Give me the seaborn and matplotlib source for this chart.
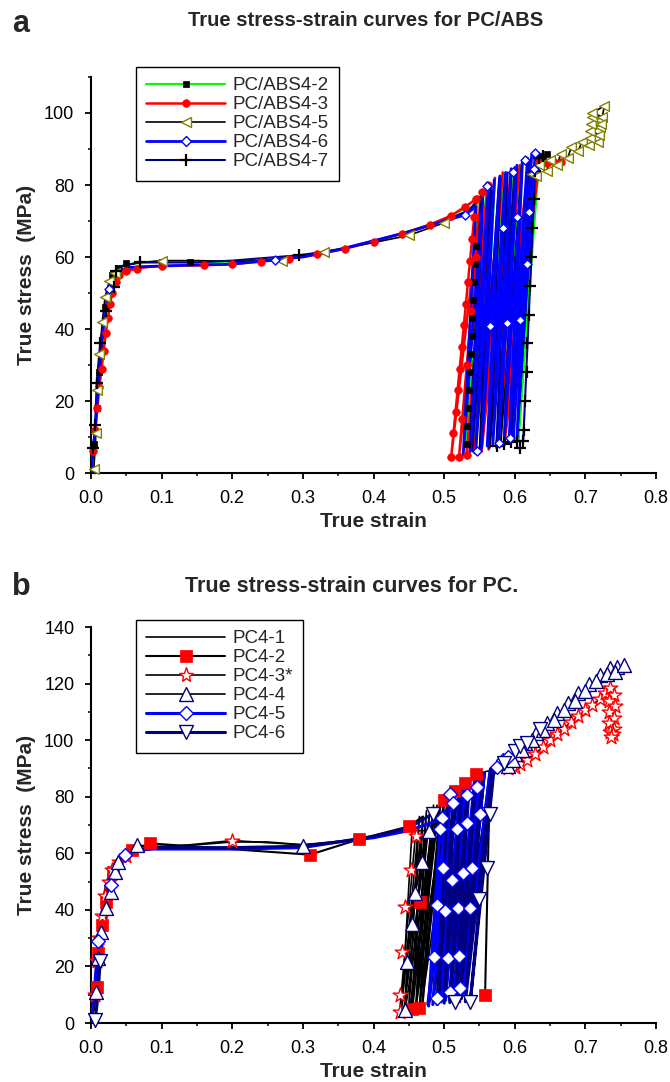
import matplotlib
matplotlib.use("Agg")
import matplotlib.pyplot as plt
from matplotlib.lines import Line2D
from matplotlib.ticker import MultipleLocator, FormatStrFormatter
import pandas as pd
import seaborn as sns

sns.set_theme(style="ticks")
plt.rcParams["font.family"] = ["Liberation Sans", "DejaVu Sans"]

# ======================= Panel a : PC/ABS =======================
a_labels = ["PC/ABS4-2", "PC/ABS4-3", "PC/ABS4-5", "PC/ABS4-6", "PC/ABS4-7"]

# PC/ABS4-2
a2_mono_x = [0, 0.004, 0.008, 0.012, 0.016, 0.02, 0.025, 0.03, 0.035, 0.04, 0.05, 0.07, 0.1, 0.14, 0.2, 0.25, 0.3, 0.35, 0.4, 0.45, 0.5, 0.53]
a2_mono_y = [0, 8, 18, 28, 38, 46, 52, 55, 56.5, 57.3, 58, 58.3, 58.5, 58.5, 58.7, 59.2, 60.3, 62, 64.3, 67, 70.5, 73.5]
a2_top_x = [0.548, 0.56, 0.572, 0.585, 0.598, 0.61, 0.622, 0.635]
a2_top_y = [77, 79.5, 81, 83, 84.5, 86, 87, 88]
a2_bot_x = [0.531, 0.541, 0.552, 0.563, 0.574, 0.585, 0.595, 0.605]
a2_bot_y = [5, 6, 6.5, 7, 7.5, 8, 8.5, 9]
a2_tail_x = [0.632, 0.645]
a2_tail_y = [86.5, 88.5]
a2_mk_x = [0.004, 0.008, 0.012, 0.02, 0.03, 0.038, 0.05, 0.1, 0.14, 0.5317, 0.5329, 0.5341, 0.5352, 0.5364, 0.5376, 0.5388, 0.540, 0.5412, 0.5423, 0.5435, 0.5447, 0.635, 0.64, 0.645]
a2_mk_y = [8, 18, 28, 46, 55, 57, 58.3, 58.7, 58.5, 8, 13, 18, 23, 28, 33, 38, 43, 48, 53, 58, 63, 88, 87.5, 88.5]

# PC/ABS4-3
a3_mono_x = [0, 0.003, 0.006, 0.009, 0.012, 0.015, 0.018, 0.021, 0.024, 0.027, 0.03, 0.035, 0.04, 0.05, 0.065, 0.08, 0.1, 0.13, 0.16, 0.2, 0.24, 0.28, 0.32, 0.36, 0.4, 0.44, 0.48, 0.51, 0.53]
a3_mono_y = [0, 6, 12, 18, 24, 29, 34, 39, 43, 47, 50, 53, 55, 56, 56.8, 57.2, 57.5, 57.6, 57.7, 58, 58.7, 59.5, 60.7, 62.3, 64.3, 66.5, 69, 71.5, 74]
a3_top_x = [0.545, 0.553, 0.562, 0.572, 0.583, 0.595, 0.607, 0.62]
a3_top_y = [76, 78, 80, 82, 83.5, 84.5, 85.5, 86.5]
a3_bot_x = [0.51, 0.521, 0.532, 0.543, 0.553, 0.563, 0.574, 0.585]
a3_bot_y = [4.4, 4.4, 5, 5.5, 6, 6.5, 7, 7.5]
a3_tail_x = [0.635, 0.645, 0.655, 0.665]
a3_tail_y = [86.5, 86, 86.5, 86.5]
a3_mk_x = [0.003, 0.006, 0.009, 0.012, 0.015, 0.018, 0.021, 0.024, 0.027, 0.03, 0.035, 0.04, 0.05, 0.065, 0.1, 0.16, 0.2, 0.24, 0.28, 0.32, 0.36, 0.4, 0.44, 0.48, 0.51, 0.53,
           0.51, 0.5132, 0.5162, 0.5191, 0.522, 0.525, 0.5279, 0.5308, 0.5338, 0.5367, 0.5396, 0.5425, 0.545,
           0.521, 0.5256, 0.5321, 0.5387, 0.5452, 0.553, 0.532, 0.562, 0.635, 0.645, 0.655, 0.665]
a3_mk_y = [6, 12, 18, 24, 29, 34, 39, 43, 47, 50, 53, 55, 56, 56.8, 57.5, 57.7, 58, 58.7, 59.5, 60.7, 62.3, 64.3, 66.5, 69, 71.5, 74,
           4.4, 11, 17, 23, 29, 35, 41, 47, 53, 59, 65, 71, 76,
           4.4, 15, 30, 45, 60, 78, 5, 80, 86.5, 86, 86.5, 86.5]

# PC/ABS4-5
a5_mono_x = [0, 0.004, 0.007, 0.009, 0.012, 0.016, 0.02, 0.026, 0.034, 0.045, 0.07, 0.1, 0.15, 0.2, 0.27, 0.33, 0.4, 0.45, 0.5, 0.535]
a5_mono_y = [0, 1, 11, 23, 33, 42, 49, 53.3, 55.5, 57.5, 58.5, 59, 59, 58.8, 59, 61.5, 64, 66, 69.5, 73]
a5_top_x = [0.552, 0.566, 0.58, 0.595, 0.61]
a5_top_y = [77, 80, 82, 83.5, 84.5]
a5_bot_x = [0.536, 0.55, 0.565, 0.58, 0.592]
a5_bot_y = [5.5, 6.5, 7, 7.5, 8]
a5_tail_x = [0.625, 0.63, 0.635, 0.645, 0.65, 0.66, 0.665, 0.675, 0.68, 0.69, 0.695, 0.705, 0.718, 0.706, 0.719, 0.707, 0.72, 0.708, 0.721, 0.709, 0.723, 0.71, 0.727, 0.722]
a5_tail_y = [83, 82.5, 85.5, 83.8, 87, 85.5, 88.5, 87.5, 90.5, 89.5, 92, 91, 92, 93, 94, 95, 96, 97, 98, 99, 99, 100, 102, 97]
a5_mk_x = [0.004, 0.007, 0.009, 0.012, 0.016, 0.02, 0.026, 0.034, 0.1, 0.27, 0.33, 0.45, 0.5] + a5_tail_x
a5_mk_y = [1, 11, 23, 33, 42, 49, 53.3, 55.5, 59, 59, 61.5, 66, 69.5] + a5_tail_y

# PC/ABS4-6
a6_mono_x = [0, 0.004, 0.008, 0.012, 0.016, 0.02, 0.026, 0.032, 0.04, 0.05, 0.07, 0.1, 0.15, 0.2, 0.26, 0.3, 0.35, 0.4, 0.45, 0.5, 0.53]
a6_mono_y = [0, 8, 18, 28, 37, 45, 51, 54.5, 56, 57, 57.3, 57.5, 57.8, 58, 59.3, 60, 62, 64.5, 67, 70, 71.7]
a6_top_x = [0.545, 0.555, 0.563, 0.571, 0.579, 0.587, 0.595, 0.603, 0.611, 0.618, 0.624, 0.629]
a6_top_y = [74, 78, 80, 81.5, 82.5, 83.5, 84.5, 85.5, 86.5, 87.5, 88.5, 89]
a6_bot_x = [0.527, 0.537, 0.545, 0.553, 0.561, 0.569, 0.577, 0.585, 0.592, 0.598, 0.603]
a6_bot_y = [5, 6, 6.5, 7, 7.5, 8, 8.5, 9, 9, 9.5, 9.5]
a6_mk_x = [0.026, 0.26, 0.53, 0.56, 0.597, 0.614, 0.628, 0.627, 0.546, 0.577, 0.593, 0.565, 0.589, 0.607, 0.584, 0.603, 0.62, 0.618]
a6_mk_y = [51, 59.3, 71.7, 79.7, 83.6, 87, 89, 84.4, 6.1, 8.3, 9.7, 40.8, 41.6, 42.5, 68, 71, 72.5, 58]

# PC/ABS4-7
a7_mono_x = [0, 0.003, 0.006, 0.008, 0.013, 0.021, 0.032, 0.036, 0.045, 0.07, 0.1, 0.15, 0.2, 0.295, 0.35, 0.4, 0.45, 0.5, 0.535]
a7_mono_y = [0, 7, 13.3, 25, 36, 45, 51.7, 56, 57.5, 58.6, 58.5, 58.5, 59, 60.5, 62, 64.5, 67, 70, 73]
a7_top_x = [0.555, 0.567, 0.578, 0.59, 0.6, 0.61, 0.62, 0.63]
a7_top_y = [77, 80, 82, 83.5, 85, 86, 87, 88.5]
a7_bot_x = [0.54, 0.552, 0.563, 0.574, 0.585, 0.595, 0.603, 0.612]
a7_bot_y = [6, 6.5, 7, 7.5, 8, 8.5, 9, 9]
a7_mk_x = [0.003, 0.006, 0.008, 0.013, 0.021, 0.032, 0.036, 0.07, 0.295, 0.613, 0.615, 0.617, 0.618, 0.62, 0.622, 0.623, 0.625, 0.627, 0.628,
           0.575, 0.585, 0.595, 0.603, 0.608, 0.612, 0.635, 0.64]
a7_mk_y = [7, 13.3, 25, 36, 45, 51.7, 56, 58.6, 60.5, 12, 20, 28, 36, 44, 52, 60, 68, 76, 84,
           7.5, 8, 8.5, 9, 7, 9, 87.5, 88]

# ======================= Panel b : PC =======================
b_labels = ["PC4-1", "PC4-2", "PC4-3*", "PC4-4", "PC4-5", "PC4-6"]

# PC4-1
b1_mono_x = [0, 0.004, 0.008, 0.012, 0.016, 0.02, 0.025, 0.03, 0.04, 0.05, 0.07, 0.1, 0.15, 0.2, 0.25, 0.3, 0.35, 0.4, 0.44]
b1_mono_y = [0, 10, 22, 33, 42, 48, 52.5, 55.5, 59, 61, 62.5, 62.5, 63, 64, 64, 63, 64, 66, 68]
b1_top_x = [0.455, 0.465, 0.475, 0.485, 0.495, 0.505, 0.515]
b1_top_y = [70, 73, 75, 77, 79, 81, 83]
b1_bot_x = [0.44, 0.45, 0.46, 0.47, 0.48, 0.49, 0.5]
b1_bot_y = [5, 6, 6.5, 7, 7.5, 8, 8.5]

# PC4-2
b2_mono_x = [0, 0.005, 0.008, 0.01, 0.015, 0.021, 0.031, 0.045, 0.058, 0.084, 0.31, 0.38, 0.45]
b2_mono_y = [0, 6, 12.7, 24.7, 34.6, 42.8, 53.4, 58, 61, 63.5, 59.5, 65, 69.5]
b2_top_x = [0.47, 0.485, 0.5, 0.515, 0.53, 0.545, 0.565]
b2_top_y = [73, 76, 79, 82, 85, 88, 90]
b2_bot_x = [0.455, 0.465, 0.478, 0.492, 0.507, 0.525, 0.558]
b2_bot_y = [5, 5.3, 6, 7, 8, 8.5, 10]
b2_mk_x = [0.008, 0.01, 0.015, 0.021, 0.031, 0.058, 0.084, 0.31, 0.38, 0.45, 0.455, 0.465, 0.466, 0.558, 0.5, 0.515, 0.53, 0.545]
b2_mk_y = [12.7, 24.7, 34.6, 42.8, 53.4, 61, 63.5, 59.5, 65, 69.5, 5, 5.3, 42.8, 10, 79, 82, 85, 88]

# PC4-3*
b3_mono_x = [0, 0.005, 0.008, 0.011, 0.015, 0.02, 0.025, 0.03, 0.04, 0.05, 0.065, 0.1, 0.2, 0.3, 0.4, 0.44]
b3_mono_y = [0, 10, 22, 30, 38, 45, 50, 54, 57, 59, 60.5, 62, 64.5, 63, 65.5, 68]
b3_top_x = [0.46, 0.47, 0.48, 0.49]
b3_top_y = [68, 72, 75, 77]
b3_bot_x = [0.437, 0.443, 0.452, 0.46]
b3_bot_y = [4, 4.5, 5, 5.5]
b3_tail_x = [0.5, 0.52, 0.54, 0.56, 0.58, 0.6, 0.617, 0.64, 0.66, 0.68, 0.7, 0.72, 0.735, 0.741, 0.733, 0.742, 0.734, 0.741, 0.733, 0.74, 0.735, 0.739, 0.736]
b3_tail_y = [79, 83, 86.5, 89, 89.5, 90.5, 93, 97.5, 102, 106.5, 110.5, 114.5, 118.5, 116, 114, 112, 110, 108, 106, 104, 103, 102, 101]
b3_mk_x = [0.005, 0.008, 0.011, 0.015, 0.02, 0.025, 0.03, 0.04, 0.05, 0.2, 0.437, 0.438, 0.44, 0.445, 0.453, 0.46,
           0.59, 0.6, 0.608, 0.617, 0.628, 0.64, 0.65, 0.66, 0.67, 0.68, 0.69, 0.7, 0.71, 0.72, 0.728,
           0.735, 0.741, 0.733, 0.742, 0.734, 0.741, 0.733, 0.74, 0.735, 0.739, 0.736]
b3_mk_y = [10, 22, 30, 38, 45, 50, 54, 57, 59, 64.5, 4, 10, 25, 41, 54, 66,
           90, 90.5, 91.5, 93, 95, 97.5, 100, 102, 104, 106.5, 108.5, 110.5, 112.5, 114.5, 116.5,
           118.5, 116, 114, 112, 110, 108, 106, 104, 103, 102, 101]

# PC4-4 (first unloading curve is part of the first list)
b4_mono_x = [0, 0.004, 0.007, 0.01, 0.014, 0.021, 0.028, 0.034, 0.038, 0.05, 0.065, 0.08, 0.1, 0.2, 0.3, 0.35, 0.4, 0.44, 0.478, 0.469, 0.459, 0.454, 0.447]
b4_mono_y = [0, 5, 11, 23, 32, 40.6, 46.3, 53.4, 57, 60, 63, 62.5, 62, 62, 62.5, 64, 66, 68, 68, 57, 46, 35, 21.6]
b4_bot_x = [0.445, 0.452, 0.46, 0.468, 0.476, 0.484, 0.495, 0.51]
b4_bot_y = [4.6, 5, 5.5, 6, 6.5, 7, 7.5, 8]
b4_top_x = [0.485, 0.492, 0.5, 0.51, 0.52, 0.535, 0.55, 0.57]
b4_top_y = [72, 75, 77, 79, 81, 85, 88, 90]
b4_tail_x = [0.59, 0.6, 0.597, 0.615, 0.61, 0.63, 0.625, 0.645, 0.64, 0.66, 0.655, 0.675, 0.67, 0.69, 0.685, 0.705, 0.7, 0.72, 0.715, 0.735, 0.73, 0.745, 0.742, 0.754]
b4_tail_y = [91, 95, 93, 99, 96.5, 102.5, 100, 106, 103.5, 109.5, 107, 113, 110.5, 116.5, 114, 120, 117.5, 123, 121, 125.5, 123.5, 126, 124, 126.5]
b4_mk_x = [0.007, 0.01, 0.014, 0.021, 0.028, 0.034, 0.038, 0.065, 0.3, 0.445, 0.447, 0.454, 0.459, 0.469, 0.478] + b4_tail_x
b4_mk_y = [11, 23, 32, 40.6, 46.3, 53.4, 57, 63, 62.5, 4.6, 21.6, 35, 46, 57, 68] + b4_tail_y

# PC4-5
b5_mono_x = [0, 0.005, 0.01, 0.015, 0.02, 0.028, 0.035, 0.048, 0.06, 0.08, 0.1, 0.2, 0.3, 0.35, 0.4, 0.45]
b5_mono_y = [0, 12, 29, 38, 44, 48.8, 53, 59.4, 61, 61.5, 61.5, 61.5, 62, 64, 65.5, 68]
b5_top_x = [0.495, 0.502, 0.508, 0.515, 0.522, 0.529, 0.536, 0.543, 0.55, 0.557]
b5_top_y = [72, 75, 77.7, 80, 81.5, 83, 84.5, 86, 87, 88.5]
b5_bot_x = [0.478, 0.484, 0.49, 0.496, 0.502, 0.508, 0.514, 0.519, 0.524, 0.528]
b5_bot_y = [6, 6.5, 7, 7.5, 8, 8.5, 9, 9.5, 10, 10.5]
b5_tail_x = [0.565, 0.575, 0.584, 0.59, 0.6]
b5_tail_y = [89, 90.5, 93, 94, 95]
b5_mk_x = [0.01, 0.028, 0.048, 0.497, 0.494, 0.518, 0.532, 0.551, 0.499, 0.511, 0.527, 0.54, 0.49, 0.501, 0.52, 0.537,
           0.485, 0.506, 0.521, 0.49, 0.508, 0.523, 0.508, 0.532, 0.547, 0.513, 0.575, 0.584, 0.59]
b5_mk_y = [29, 48.8, 59.4, 72.4, 68.5, 68.5, 70.7, 74, 54.8, 50.5, 53, 54.8, 41.7, 39.6, 40.6, 40.6,
           23.3, 23, 23.7, 8.8, 11, 12.3, 81, 80.6, 83.4, 77.7, 90.5, 93, 94]

# PC4-6
b6_mono_x = [0, 0.006, 0.01, 0.013, 0.018, 0.025, 0.03, 0.04, 0.05, 0.07, 0.1, 0.2, 0.3, 0.35, 0.4, 0.45, 0.484]
b6_mono_y = [0, 1, 10, 22, 33, 42, 48, 55, 59, 61.5, 62, 62, 62.5, 64, 66, 69, 74]
b6_top_x = [0.505, 0.515, 0.525, 0.535, 0.545, 0.555, 0.568]
b6_top_y = [79, 81.5, 83.5, 85.5, 87, 88.5, 90]
b6_bot_x = [0.49, 0.5, 0.508, 0.516, 0.522, 0.53, 0.537]
b6_bot_y = [6.5, 7, 7.2, 7.4, 7.5, 7.5, 7.4]
b6_tail_x = [0.57, 0.585, 0.6, 0.607, 0.617, 0.627, 0.636, 0.65, 0.67, 0.69, 0.71, 0.73, 0.745]
b6_tail_y = [88, 92, 96, 98, 99, 101.5, 104, 106, 110, 114, 118, 122, 125]
b6_mk_x = [0.006, 0.013, 0.484, 0.565, 0.561, 0.55, 0.516, 0.537, 0.585, 0.6, 0.607, 0.617, 0.636]
b6_mk_y = [1, 22, 74, 74, 54.8, 44, 7.4, 7.4, 92, 96, 98, 99, 104]


def build_path(mono_x, mono_y, first_x, first_y, second_x, second_y, tail_x=(), tail_y=()):
    xs, ys = list(mono_x), list(mono_y)
    for i in range(len(first_x)):
        xs.append(first_x[i]); ys.append(first_y[i])
        if i < len(second_x):
            xs.append(second_x[i]); ys.append(second_y[i])
    xs += list(tail_x); ys += list(tail_y)
    return xs, ys


def draw_line(ax, xs, ys, color, lw, z):
    df = pd.DataFrame({"strain": xs, "stress": ys})
    sns.lineplot(data=df, x="strain", y="stress", sort=False, estimator=None,
                 color=color, linewidth=lw, ax=ax, zorder=z, legend=False)


def draw_marks(ax, mx, my, marker, ms, face, edge, mew, z):
    kw = dict(marker=marker, s=ms ** 2, linewidth=mew, ax=ax, zorder=z, legend=False, clip_on=False)
    if marker == "+":
        sns.scatterplot(x=mx, y=my, color=edge, **kw)
    else:
        sns.scatterplot(x=mx, y=my, color=face, edgecolor=edge, **kw)


W, H = 670, 1082
fig = plt.figure(figsize=(W / 100, H / 100), dpi=100)
axa = fig.add_axes([91 / W, 1 - 473 / H, 565 / W, 396 / H])
axb = fig.add_axes([91 / W, 1 - 1023 / H, 565 / W, 396 / H])

# ---- panel a drawing ----
a_series = [
    (build_path(a2_mono_x, a2_mono_y, a2_top_x, a2_top_y, a2_bot_x, a2_bot_y, a2_tail_x, a2_tail_y), a2_mk_x, a2_mk_y),
    (build_path(a3_mono_x, a3_mono_y, a3_top_x, a3_top_y, a3_bot_x, a3_bot_y, a3_tail_x, a3_tail_y), a3_mk_x, a3_mk_y),
    (build_path(a5_mono_x, a5_mono_y, a5_top_x, a5_top_y, a5_bot_x, a5_bot_y, a5_tail_x, a5_tail_y), a5_mk_x, a5_mk_y),
    (build_path(a6_mono_x, a6_mono_y, a6_top_x, a6_top_y, a6_bot_x, a6_bot_y), a6_mk_x, a6_mk_y),
    (build_path(a7_mono_x, a7_mono_y, a7_top_x, a7_top_y, a7_bot_x, a7_bot_y), a7_mk_x, a7_mk_y),
]
# line colour, line width, marker, marker size, face, edge, edge width
a_styles = [
    ("#00FF00", 1.5, "s", 5.0, "black", "black", 0.5),
    ("#FF0000", 1.8, "o", 5.5, "#FF0000", "#FF0000", 0.5),
    ("black", 1.2, "<", 7.0, "white", "#808000", 1.0),
    ("#0000FF", 2.0, "D", 4.6, "white", "#0000FF", 1.0),
    ("#000080", 1.5, "+", 8.0, "black", "black", 1.6),
]
a_zorder = [3, 4, 5, 7, 6]
for i, (((xs, ys), mx, my), st) in enumerate(zip(a_series, a_styles)):
    draw_line(axa, xs, ys, st[0], st[1], a_zorder[i])
for i, (((xs, ys), mx, my), st) in enumerate(zip(a_series, a_styles)):
    draw_marks(axa, mx, my, st[2], st[3], st[4], st[5], st[6], 10 + a_zorder[i])

# ---- panel b drawing ----
b_series = [
    (build_path(b1_mono_x, b1_mono_y, b1_top_x, b1_top_y, b1_bot_x, b1_bot_y), None, None),
    (build_path(b2_mono_x, b2_mono_y, b2_top_x, b2_top_y, b2_bot_x, b2_bot_y), b2_mk_x, b2_mk_y),
    (build_path(b3_mono_x, b3_mono_y, b3_top_x, b3_top_y, b3_bot_x, b3_bot_y, b3_tail_x, b3_tail_y), b3_mk_x, b3_mk_y),
    (build_path(b4_mono_x, b4_mono_y, b4_bot_x, b4_bot_y, b4_top_x, b4_top_y, b4_tail_x, b4_tail_y), b4_mk_x, b4_mk_y),
    (build_path(b5_mono_x, b5_mono_y, b5_top_x, b5_top_y, b5_bot_x, b5_bot_y, b5_tail_x, b5_tail_y), b5_mk_x, b5_mk_y),
    (build_path(b6_mono_x, b6_mono_y, b6_top_x, b6_top_y, b6_bot_x, b6_bot_y, b6_tail_x, b6_tail_y), b6_mk_x, b6_mk_y),
]
b_styles = [
    ("black", 1.2, None, 0, None, None, 0),
    ("black", 1.5, "s", 8.0, "#FF0000", "#FF0000", 0.5),
    ("black", 1.2, "*", 11.0, "white", "#FF0000", 1.0),
    ("black", 1.2, "^", 10.0, "white", "#000080", 1.0),
    ("#0000FF", 2.2, "D", 7.0, "white", "#0000FF", 1.0),
    ("#000080", 2.2, "v", 10.0, "white", "#000080", 1.0),
]
for i, (((xs, ys), mx, my), st) in enumerate(zip(b_series, b_styles)):
    draw_line(axb, xs, ys, st[0], st[1], 2 + i)
for i, (((xs, ys), mx, my), st) in enumerate(zip(b_series, b_styles)):
    if mx is not None:
        draw_marks(axb, mx, my, st[2], st[3], st[4], st[5], st[6], 10 + i)

# ---- axes formatting ----
for ax, ymax in ((axa, 110), (axb, 140)):
    ax.set_xlim(0, 0.8)
    ax.set_ylim(0, ymax)
    ax.xaxis.set_major_locator(MultipleLocator(0.1))
    ax.xaxis.set_minor_locator(MultipleLocator(0.05))
    ax.yaxis.set_major_locator(MultipleLocator(20))
    ax.yaxis.set_minor_locator(MultipleLocator(10))
    ax.xaxis.set_major_formatter(FormatStrFormatter("%.1f"))
    ax.yaxis.set_major_formatter(FormatStrFormatter("%d"))
    sns.despine(ax=ax)
    for sp in ("left", "bottom"):
        ax.spines[sp].set_linewidth(1.5)
        ax.spines[sp].set_color("black")
    ax.tick_params(which="major", direction="out", length=4, width=1.3, labelsize=13, pad=8, colors="black")
    ax.tick_params(which="minor", direction="out", length=2.5, width=1.1, colors="black")
    ax.set_xlabel("True strain", fontsize=15, fontweight="bold", labelpad=4)
    ax.set_ylabel("True stress  (MPa)", fontsize=15, fontweight="bold", labelpad=6)
    ax.set_facecolor("white")
    ax.grid(False)

# ---- legends ----
def handle(st):
    return Line2D([0], [0], color=st[0], lw=st[1], marker=st[2], markersize=st[3],
                  markerfacecolor=st[4], markeredgecolor=st[5], markeredgewidth=st[6])

for styles, labels, top in ((a_styles, a_labels, 67), (b_styles, b_labels, 620)):
    leg = fig.legend([handle(s) for s in styles], labels, loc="upper left",
                     bbox_to_anchor=(136 / W, 1 - top / H), bbox_transform=fig.transFigure,
                     frameon=True, fancybox=False, framealpha=1, edgecolor="black",
                     fontsize=13.5, handlelength=4.2, handletextpad=0.4, labelspacing=0.1,
                     borderpad=0.55, borderaxespad=0)
    leg.get_frame().set_linewidth(1.0)

# ---- titles ----
fig.text(188 / W, 1 - 26 / H, "True stress-strain curves for PC/ABS", fontsize=14.6, fontweight="bold", ha="left", va="baseline")
fig.text(185 / W, 1 - 592 / H, "True stress-strain curves for PC.", fontsize=15.5, fontweight="bold", ha="left", va="baseline")
fig.text(12 / W, 1 - 32 / H, "a", fontsize=22, fontweight="bold", ha="left", va="baseline")
fig.text(12 / W, 1 - 595 / H, "b", fontsize=22, fontweight="bold", ha="left", va="baseline")

fig.savefig("out.png", dpi=100, facecolor="white")
